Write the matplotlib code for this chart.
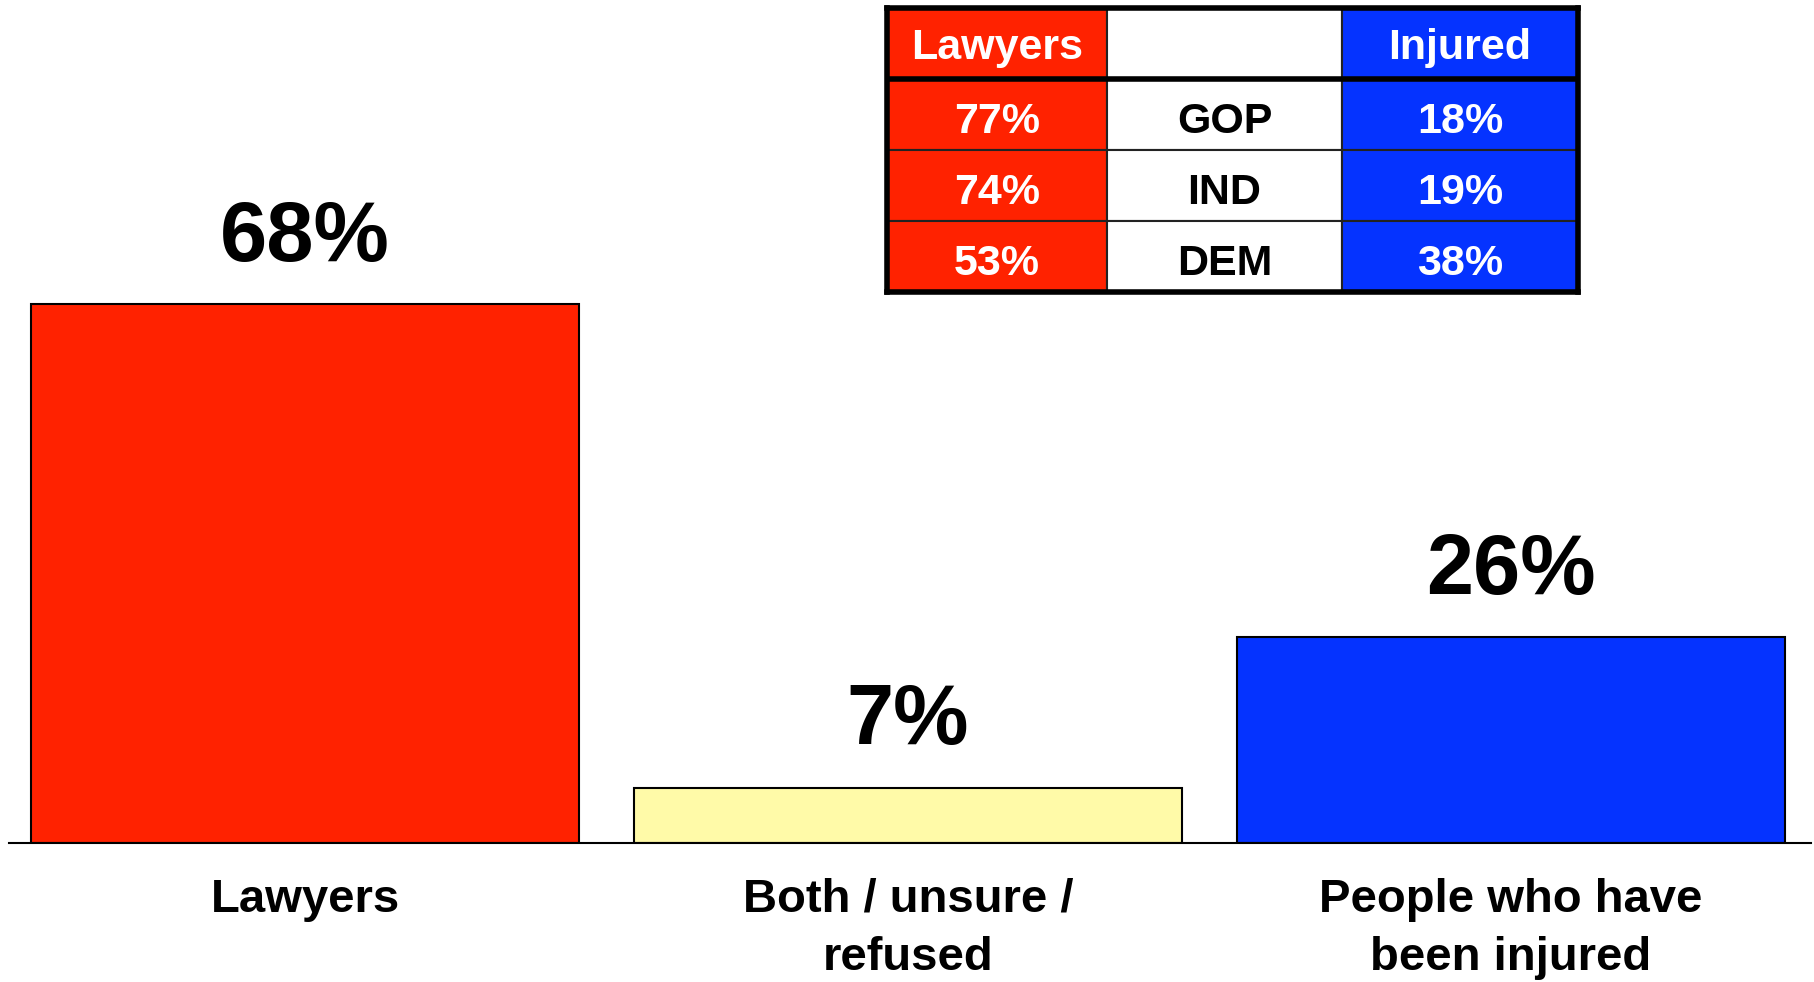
import numpy as np
import matplotlib
matplotlib.use("Agg")
import matplotlib.pyplot as plt
import matplotlib.transforms as mtransforms
from matplotlib.patches import Rectangle

plt.rcParams['font.family'] = ['Liberation Sans', 'DejaVu Sans']
plt.rcParams['font.weight'] = 'bold'

# bar data
categories = ["Lawyers", "Both / unsure /\nrefused", "People who have\nbeen injured"]
values = [68, 7, 26]
bar_colors = ["#ff2200", "#fffaa8", "#0533ff"]

# party breakdown table
table_header = ["Lawyers", "", "Injured"]
parties = ["GOP", "IND", "DEM"]
lawyers_pct = [77, 74, 53]
injured_pct = [18, 19, 38]

fig = plt.figure(figsize=(18.14, 9.82), dpi=100)
W, H = 1814, 982

# main bar axes, placed in pixel terms
base_px, top_px = 843, 8
ax = fig.add_axes([9 / W, 1 - base_px / H, 1802 / W, (base_px - top_px) / H])
px_per_unit = (843 - 304) / 68.0
ax.set_ylim(0, (base_px - top_px) / px_per_unit)
ax.set_xlim(-296 / 603, 2 + 300 / 603)

x = np.arange(len(values))
bars = ax.bar(x, values, width=548 / 603, color=bar_colors,
              edgecolor='black', linewidth=1.5, zorder=2)

for xi, v in zip(x, values):
    ax.annotate(f"{v}%", xy=(xi, v), xytext=(0, 31), textcoords='offset points',
                ha='center', va='baseline', fontsize=61, fontweight='bold')

trans = mtransforms.blended_transform_factory(ax.transData, fig.transFigure)
for xi, lab in zip(x, categories):
    ax.text(xi, 1 - 878 / H, lab, transform=trans, ha='center', va='top',
            fontsize=34, fontweight='bold', linespacing=1.42)

for s in ['top', 'left', 'right']:
    ax.spines[s].set_visible(False)
ax.spines['bottom'].set_linewidth(1.5)
ax.set_xticks([])
ax.set_yticks([])

# table inset: columns/rows in cell units
tax = fig.add_axes([887 / W, 1 - 292 / H, 691 / W, 284 / H])
col_w = np.array([220, 235, 236]) / 691
col_x = np.concatenate([[0], np.cumsum(col_w)])
n_rows = 4
tax.set_xlim(0, 1)
tax.set_ylim(n_rows, 0)
tax.set_xticks([])
tax.set_yticks([])

cell_text = [table_header] + [[f"{l}%", p, f"{i}%"]
                              for l, p, i in zip(lawyers_pct, parties, injured_pct)]
col_colors = [bar_colors[0], "white", bar_colors[2]]
for r, row in enumerate(cell_text):
    for c, txt in enumerate(row):
        tax.add_patch(Rectangle((col_x[c], r), col_w[c], 1, facecolor=col_colors[c],
                                edgecolor='#222222', linewidth=1.5))
        dy = 0.57 if r == 0 else 0.61
        tax.text(col_x[c] + col_w[c] / 2, r + dy, txt, ha='center', va='center',
                 fontsize=31, fontweight='bold',
                 color='black' if c == 1 else 'white')

for s in tax.spines.values():
    s.set_linewidth(4)
    s.set_zorder(5)
tax.axhline(1, color='black', linewidth=4, zorder=5)

fig.savefig("out.png", dpi=100)
